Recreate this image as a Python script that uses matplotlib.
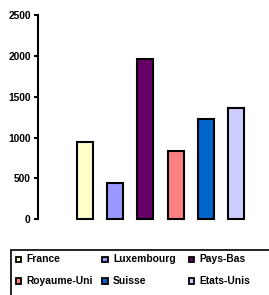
import matplotlib
matplotlib.use("Agg")
import matplotlib.pyplot as plt
from matplotlib.patches import Rectangle
import numpy as np

pays = ['France', 'Luxembourg', 'Pays-Bas', 'Royaume-Uni', 'Suisse', 'Etats-Unis']
valeurs = [945, 450, 1960, 830, 1230, 1360]
couleurs = ['#FFFFCC', '#9999FF', '#660066', '#FF8080', '#0066CC', '#CCCCFF']
yticks = [0, 500, 1000, 1500, 2000, 2500]

W, H = 269, 295
plt.rcParams['font.family'] = ['Liberation Sans', 'DejaVu Sans']
plt.rcParams['font.weight'] = 'bold'

fig = plt.figure(figsize=(W / 100, H / 100), dpi=100)

def fx(px):
    return px / W

def fy(py):
    return 1 - py / H

# zone du graphique
ax = fig.add_axes([fx(38), fy(219.3), fx(269) - fx(38), fy(15) - fy(219.3)])
x = np.arange(len(pays))
ax.bar(x, valeurs, width=0.53, color=couleurs, edgecolor='black',
       linewidth=1.5, clip_on=False)
ax.set_xlim(-1.535, 6.08)
ax.set_ylim(0, 2500)
ax.set_yticks(yticks)
ax.set_yticklabels([str(t) for t in yticks], fontsize=7.4, fontweight='bold')
ax.tick_params(axis='y', length=3, width=1.5, pad=2.3)
ax.set_xticks([])
for s in ['top', 'right', 'bottom']:
    ax.spines[s].set_visible(False)
ax.spines['left'].set_linewidth(1.5)

# legende
cadre = Rectangle((fx(11), fy(300)), fx(280) - fx(11), fy(250) - fy(300),
                  transform=fig.transFigure, facecolor='white',
                  edgecolor='black', linewidth=1.2, clip_on=False)
fig.patches.append(cadre)
for i, (nom, c) in enumerate(zip(pays, couleurs)):
    col, lig = i % 3, i // 3
    mx = 18.7 + col * 86.3
    my = 259.5 + lig * 21.5
    carre = Rectangle((fx(mx - 2.7), fy(my + 2.7)), fx(5.4), fy(0) - fy(5.4),
                      transform=fig.transFigure, facecolor=c,
                      edgecolor='black', linewidth=1.3)
    fig.patches.append(carre)
    fig.text(fx(mx + 8), fy(my), nom, fontsize=7.4, fontweight='bold',
             ha='left', va='center')

fig.savefig('out.png', dpi=100)
